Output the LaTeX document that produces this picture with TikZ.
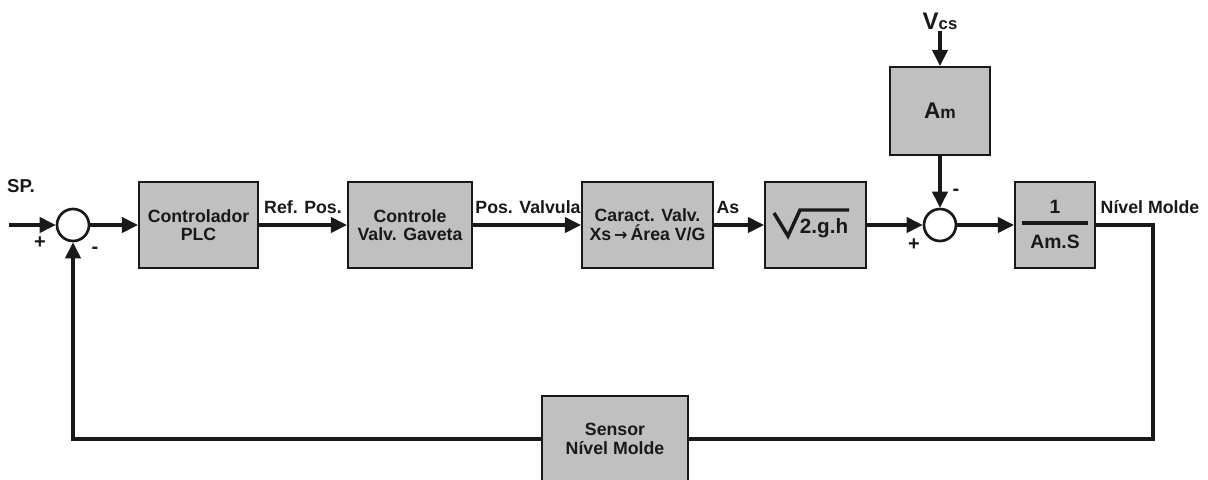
\documentclass[tikz,border=0pt]{standalone}
\usepackage{fontspec}
\setmainfont{Liberation Sans}
\newfontfamily\symfont{DejaVu Sans}
\usetikzlibrary{arrows.meta}
\definecolor{boxgray}{RGB}{192,192,192}
\definecolor{ink}{RGB}{25,25,25}
\begin{document}
\begin{tikzpicture}[x=0.75pt,y=-0.75pt,
  every node/.style={font=\bfseries\fontsize{13.3}{14}\selectfont, text=ink},
  blk/.style={draw=ink, line width=1.6pt, fill=boxgray, align=center, inner sep=0pt},
  sumnode/.style={draw=ink, circle, line width=2pt, minimum size=24pt, inner sep=0pt, fill=white},
  conn/.style={draw=ink, line width=2.3pt},
  arr/.style={conn, -{Triangle[length=12pt,width=11.5pt]}},
  lbl/.style={inner sep=0pt},
  sgn/.style={inner sep=0pt, font=\bfseries\fontsize{15}{15}\selectfont}]
\path[clip] (0,0) rectangle (1208,479);
\fill[white] (0,0) rectangle (1208,479);

% blocks
\node[blk, minimum width=89.25pt, minimum height=64.5pt] (plc) at (198.5,225) {Controlador\\PLC};
\node[blk, minimum width=93pt, minimum height=64.5pt] (cvg) at (410,225) {Controle\\Valv. Gaveta};
\node[blk, minimum width=98.25pt, minimum height=64pt] (car) at (647.5,225) {Caract. Valv.\\Xs\,{\symfont\bfseries\fontsize{12}{12}\selectfont →}\,Área V/G};
\node[blk, minimum width=75.75pt, minimum height=64pt] (sq) at (815.5,225) {};
\node[blk, minimum width=75pt, minimum height=66pt] (am) at (940,111) {{\fontsize{17}{17}\selectfont A}{\fontsize{13}{13}\selectfont m}};
\node[blk, minimum width=60pt, minimum height=64pt] (fr) at (1055,225) {};
\node[blk, minimum width=109.5pt, minimum height=64.5pt] (sen) at (615,439) {Sensor\\Nível Molde};

% sqrt content
\draw[draw=ink, line width=2.6pt, line join=miter] (774,213) -- (788,236) -- (800,210) -- (849,210);
\node[lbl] (sqt) at (824,228) {\fontsize{15.5}{15.5}\selectfont 2.g.h};

% fraction content
\node[lbl] (one) at (1055,207) {\fontsize{14.5}{14.5}\selectfont 1};
\node[lbl] (ams) at (1055,242) {\fontsize{14.5}{14.5}\selectfont Am.S};
\draw[draw=ink, line width=2.6pt] (1022,223) -- (1088,223);

% summing junctions
\node[sumnode] (s1) at (73,225) {};
\node[sumnode] (s2) at (940,225) {};

% inputs
\coordinate (sp) at (9,225);
\node[lbl] (splbl) at (21,186) {\fontsize{14}{14}\selectfont SP.};
\node[inner sep=1pt, anchor=south] (vcs) at (940,31) {{\fontsize{18}{18}\selectfont V}{\fontsize{12.5}{12.5}\selectfont cs}};

% signs
\node[sgn] (p1) at (40,243) {+};
\node[sgn] (m1) at (95,250) {-};
\node[sgn] (p2) at (914,245) {+};
\node[sgn] (m2) at (956,192) {-};

% connectors
\draw[arr] (sp) -- (s1);
\draw[arr] (s1) -- (plc);
\draw[arr] (plc) -- (cvg);
\draw[arr] (cvg) -- (car);
\draw[arr] (car) -- (sq);
\draw[arr] (sq) -- (s2);
\draw[arr] (vcs) -- (am);
\draw[arr] (am) -- (s2);
\draw[arr] (s2) -- (fr);
\coordinate (c1) at (1153,225);
\draw[conn, line join=miter] (fr) -- (c1) |- (sen);
\draw[arr, line join=miter] (sen) -| (s1);

% connector labels
\node[lbl] (rp) at (303,207) {Ref. Pos.};
\node[lbl] (pv) at (528,207) {Pos. Valvula};
\node[lbl] (as) at (728,207) {As};
\node[lbl] (nm) at (1150,207) {Nível Molde};
\end{tikzpicture}
\end{document}
